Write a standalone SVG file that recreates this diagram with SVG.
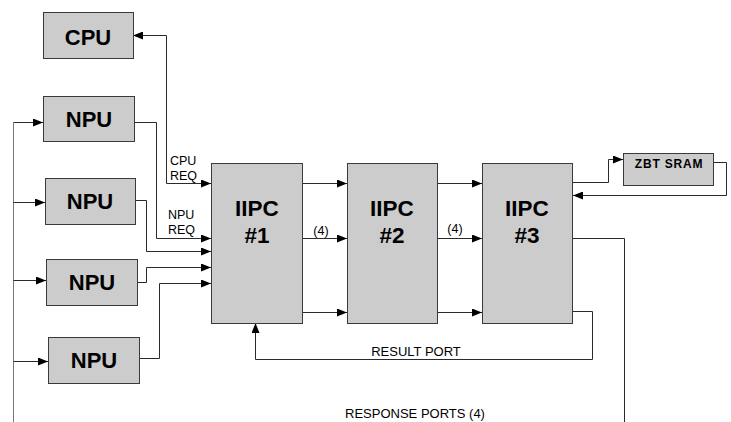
<svg xmlns="http://www.w3.org/2000/svg" width="731" height="422" viewBox="0 0 731 422">
  <style>
    .box { fill: #cccccc; stroke: #3a3a3a; stroke-width: 1; }
    .big { font-family: "Liberation Sans", Arial, sans-serif; font-weight: bold; font-size: 22px; fill: #000; text-anchor: middle; }
    .stage { font-size: 22.5px; }
    .tiny { font-size: 12px; letter-spacing: 0.8px; }
    .small { font-family: "Liberation Sans", Arial, sans-serif; font-size: 12.5px; fill: #000; }
    .port { font-size: 13px; }
    .mid { text-anchor: middle; }
    .wire { fill: none; stroke: #2a2a2a; stroke-width: 1; }
    .bus { stroke: #777777; }
    .arr { marker-end: url(#head); }
  </style>
  <defs>
    <marker id="head" viewBox="0 0 10 8" refX="10" refY="4" markerWidth="10" markerHeight="8" markerUnits="userSpaceOnUse" orient="auto">
      <path d="M0,0 L10,4 L0,8 Z" fill="#000"/>
    </marker>
    <marker id="tail" viewBox="0 0 10 8" refX="0" refY="4" markerWidth="10" markerHeight="8" markerUnits="userSpaceOnUse" orient="auto">
      <path d="M10,0 L0,4 L10,8 Z" fill="#000"/>
    </marker>
  </defs>

  <rect width="731" height="422" fill="#ffffff"/>

  <!-- connectors -->
  <g id="connectors">
    <!-- NPU feed bus -->
    <path class="wire bus" d="M13.5,122.5 V422"/>
    <path class="wire arr" d="M13.5,122.5 H43"/>
    <path class="wire arr" d="M13.5,202.5 H45"/>
    <path class="wire arr" d="M13.5,280.5 H46"/>
    <path class="wire arr" d="M13.5,361.5 H48"/>

    <!-- CPU request / reply -->
    <path class="wire arr" d="M133,35.5 H166.5 V183.5 H211" marker-start="url(#tail)"/>
    <!-- NPU requests into IIPC #1 -->
    <path class="wire arr" d="M134,122.5 H156.5 V238.5 H211"/>
    <path class="wire arr" d="M135,200.5 H146.5 V251.5 H211"/>
    <path class="wire arr" d="M137,282.5 H146.5 V267.5 H211"/>
    <path class="wire arr" d="M139,358.5 H159.5 V283.5 H211"/>

    <!-- pipeline between IIPC stages -->
    <path class="wire arr" d="M302,183.5 H347"/>
    <path class="wire arr" d="M302,238.5 H347"/>
    <path class="wire arr" d="M302,312.5 H347"/>
    <path class="wire arr" d="M437,183.5 H482"/>
    <path class="wire arr" d="M437,238.5 H482"/>
    <path class="wire arr" d="M437,312.5 H482"/>

    <!-- ZBT SRAM access -->
    <path class="wire arr" d="M573,182.5 H608.5 V159.5 H623"/>
    <path class="wire arr" d="M713,162.5 H726.5 V195.5 H573"/>

    <!-- result port back to IIPC #1 -->
    <path class="wire arr" d="M572,311.5 H592.5 V359.5 H255.5 V323"/>

    <!-- response ports -->
    <path class="wire" d="M573,238.5 H624.5 V422"/>
  </g>

  <!-- nodes -->
  <g id="cpu">
    <rect class="box" x="43.5" y="12.5" width="90" height="46"/>
    <text class="big" x="88" y="45">CPU</text>
  </g>
  <g id="npu1">
    <rect class="box" x="43.5" y="96.5" width="91" height="45"/>
    <text class="big" x="89" y="127">NPU</text>
  </g>
  <g id="npu2">
    <rect class="box" x="45.5" y="178.5" width="90" height="46"/>
    <text class="big" x="90" y="209">NPU</text>
  </g>
  <g id="npu3">
    <rect class="box" x="46.5" y="259.5" width="91" height="46"/>
    <text class="big" x="92" y="290">NPU</text>
  </g>
  <g id="npu4">
    <rect class="box" x="48.5" y="337.5" width="91" height="46"/>
    <text class="big" x="94" y="368">NPU</text>
  </g>

  <g id="iipc1">
    <rect class="box" x="211.5" y="163.5" width="91" height="160"/>
    <text class="big stage" x="257" y="216">IIPC</text>
    <text class="big stage" x="257" y="243">#1</text>
  </g>
  <g id="iipc2">
    <rect class="box" x="347.5" y="163.5" width="90" height="160"/>
    <text class="big stage" x="392" y="216">IIPC</text>
    <text class="big stage" x="392" y="243">#2</text>
  </g>
  <g id="iipc3">
    <rect class="box" x="482.5" y="163.5" width="90" height="160"/>
    <text class="big stage" x="527" y="216">IIPC</text>
    <text class="big stage" x="527" y="243">#3</text>
  </g>

  <g id="zbt-sram">
    <rect class="box" x="623.5" y="153.5" width="90" height="32"/>
    <text class="big tiny" x="669" y="168">ZBT SRAM</text>
  </g>

  <!-- labels -->
  <g id="labels">
    <text class="small" x="170" y="165">CPU</text>
    <text class="small" x="170" y="180">REQ</text>
    <text class="small" x="168" y="219">NPU</text>
    <text class="small" x="168" y="234">REQ</text>
    <text class="small mid" x="321" y="235">(4)</text>
    <text class="small mid" x="455" y="233">(4)</text>
    <text class="small mid port" x="416" y="356">RESULT PORT</text>
    <text class="small mid port" x="415" y="418">RESPONSE PORTS (4)</text>
  </g>
</svg>
